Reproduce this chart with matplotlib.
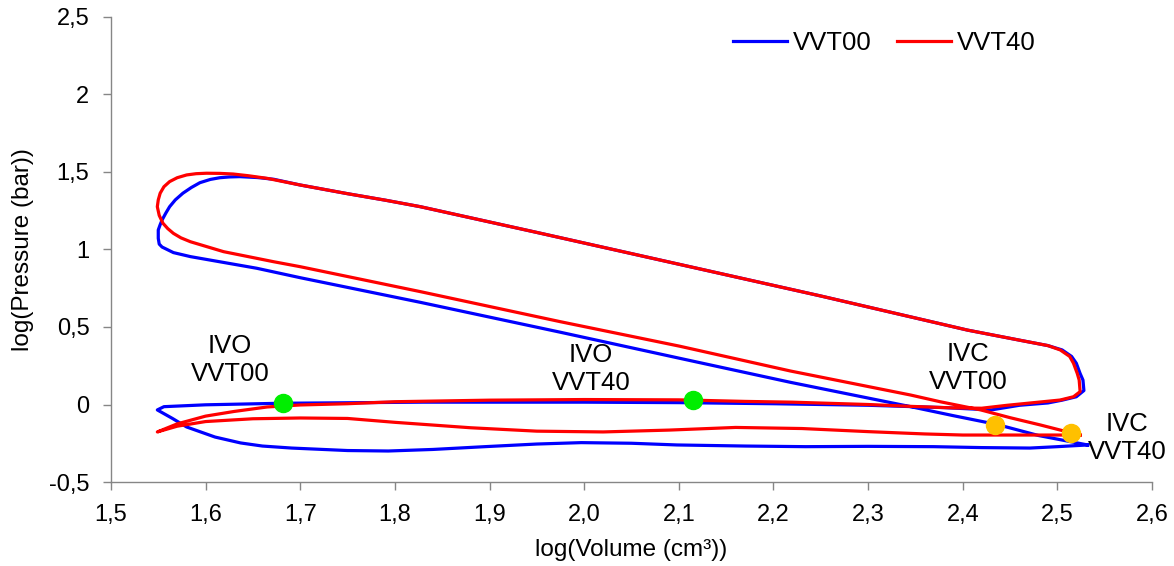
import matplotlib
matplotlib.use("Agg")
import matplotlib.pyplot as plt
from matplotlib.ticker import FuncFormatter, MultipleLocator

plt.rcParams['font.family'] = ['Liberation Sans', 'DejaVu Sans']

# log(Volume), log(Pressure), in cycle order:
# compression -> combustion -> expansion -> exhaust -> intake
vvt00_vol = [2.532, 2.48, 2.437, 2.39, 2.345, 2.218, 2.101, 1.975, 1.827, 1.700,
             1.654, 1.584, 1.566, 1.559, 1.554, 1.551, 1.550, 1.550, 1.552, 1.554,
             1.558, 1.562, 1.568, 1.576, 1.585, 1.594, 1.605, 1.615, 1.625, 1.636,
             1.655, 1.672, 1.700, 1.75, 1.79, 1.827, 1.95, 2.10, 2.25, 2.405,
             2.46, 2.49, 2.505, 2.515, 2.52, 2.524, 2.527, 2.528, 2.52, 2.505,
             2.49, 2.46, 2.43, 2.38, 2.30, 2.20, 2.10, 2.00, 1.83, 1.68,
             1.60, 1.556, 1.549, 1.565, 1.580, 1.61, 1.637, 1.66, 1.691, 1.75,
             1.793, 1.84, 1.895, 1.95, 1.997, 2.05, 2.098, 2.17, 2.234, 2.30,
             2.369, 2.42, 2.471, 2.50, 2.532]
vvt00_pres = [-0.261, -0.20, -0.13, -0.072, -0.014, 0.143, 0.298, 0.466, 0.659, 0.818,
              0.879, 0.954, 0.980, 1.001, 1.016, 1.035, 1.072, 1.126, 1.16, 1.19,
              1.235, 1.276, 1.32, 1.363, 1.40, 1.431, 1.452, 1.463, 1.468, 1.470,
              1.464, 1.453, 1.416, 1.36, 1.318, 1.276, 1.11, 0.905, 0.70, 0.48,
              0.415, 0.38, 0.352, 0.31, 0.266, 0.20, 0.158, 0.09, 0.05, 0.028,
              0.01, -0.005, -0.035, -0.02, -0.005, 0.005, 0.012, 0.015, 0.015, 0.008,
              -0.002, -0.014, -0.035, -0.09, -0.145, -0.21, -0.248, -0.268, -0.281, -0.297,
              -0.30, -0.29, -0.272, -0.255, -0.246, -0.25, -0.261, -0.268, -0.272, -0.27,
              -0.272, -0.278, -0.281, -0.272, -0.261]

vvt40_vol = [2.524, 2.514, 2.482, 2.45, 2.419, 2.376, 2.345, 2.218, 2.101, 1.975,
             1.827, 1.700, 1.672, 1.619, 1.584, 1.574, 1.566, 1.560, 1.555, 1.551,
             1.549, 1.550, 1.552, 1.556, 1.562, 1.570, 1.580, 1.590, 1.601, 1.615,
             1.629, 1.645, 1.665, 1.700, 1.75, 1.79, 1.827, 1.95, 2.10, 2.25,
             2.405, 2.46, 2.49, 2.503, 2.513, 2.517, 2.521, 2.523, 2.524, 2.517,
             2.503, 2.48, 2.447, 2.42, 2.39, 2.345, 2.30, 2.22, 2.17, 2.10,
             2.00, 1.90, 1.80, 1.75, 1.70, 1.665, 1.63, 1.60, 1.57, 1.549,
             1.57, 1.60, 1.65, 1.70, 1.75, 1.80, 1.88, 1.95, 2.02, 2.09,
             2.16, 2.23, 2.30, 2.36, 2.40, 2.45, 2.50, 2.524]
vvt40_pres = [-0.197, -0.182, -0.132, -0.085, -0.035, 0.018, 0.061, 0.216, 0.376, 0.534,
              0.728, 0.889, 0.921, 0.986, 1.050, 1.075, 1.104, 1.135, 1.169, 1.22,
              1.276, 1.32, 1.363, 1.405, 1.438, 1.463, 1.481, 1.489, 1.492, 1.491,
              1.487, 1.476, 1.459, 1.416, 1.36, 1.318, 1.276, 1.11, 0.905, 0.70,
              0.48, 0.415, 0.38, 0.352, 0.31, 0.266, 0.20, 0.158, 0.083, 0.05,
              0.029, 0.015, -0.005, -0.024, -0.022, -0.012, 0.0, 0.015, 0.02, 0.03,
              0.032, 0.028, 0.018, 0.005, -0.003, -0.016, -0.045, -0.075, -0.125, -0.177,
              -0.14, -0.11, -0.092, -0.087, -0.09, -0.115, -0.15, -0.172, -0.177, -0.165,
              -0.148, -0.155, -0.175, -0.19, -0.197, -0.197, -0.197, -0.197]

# valve events
ivo_vol = [1.682, 2.115]
ivo_pres = [0.008, 0.029]
ivc_vol = [2.434, 2.514]
ivc_pres = [-0.13, -0.182]

fig = plt.figure(figsize=(11.74, 5.66), dpi=100)
ax = fig.add_subplot(111)
fig.subplots_adjust(left=0.0945, right=0.9813, top=0.970, bottom=0.1484)

ax.plot(vvt00_vol, vvt00_pres, color='#0000FF', lw=2.3, label='VVT00', zorder=3,
        solid_joinstyle='round')
ax.plot(vvt40_vol, vvt40_pres, color='#FF0000', lw=2.3, label='VVT40', zorder=4,
        solid_joinstyle='round')
ax.plot(ivo_vol, ivo_pres, 'o', color='#00EE00', ms=13, zorder=5)
ax.plot(ivc_vol, ivc_pres, 'o', color='#FFC000', ms=13, zorder=5)

txt = dict(fontsize=18.5, ha='center', va='center', linespacing=1.2)
ax.text(1.626, 0.287, 'IVO\nVVT00', **txt)
ax.text(2.007, 0.229, 'IVO\nVVT40', **txt)
ax.text(2.406, 0.235, 'IVC\nVVT00', **txt)
ax.text(2.574, -0.216, 'IVC\nVVT40', **txt)

ax.set_xlim(1.5, 2.6)
ax.set_ylim(-0.5, 2.5)
ax.xaxis.set_major_locator(MultipleLocator(0.1))
ax.yaxis.set_major_locator(MultipleLocator(0.5))
ax.xaxis.set_major_formatter(FuncFormatter(lambda v, p: '{:.1f}'.format(v).replace('.', ',')))
ax.yaxis.set_major_formatter(FuncFormatter(lambda v, p: '{:g}'.format(round(v, 2)).replace('.', ',')))

for s in ['top', 'right']:
    ax.spines[s].set_visible(False)
for s in ['left', 'bottom']:
    ax.spines[s].set_color('#868686')
    ax.spines[s].set_linewidth(1.0)
ax.tick_params(direction='out', length=5.5, width=1.0, color='#868686',
               labelsize=17, pad=10)

ax.set_xlabel('log(Volume (cm³))', fontsize=17.5)
ax.set_ylabel('log(Pressure (bar))', fontsize=17.5)
ax.xaxis.set_label_coords(0.5, -0.122)
ax.yaxis.set_label_coords(-0.074, 0.5)

ax.legend(loc='center', bbox_to_anchor=(0.7426, 0.944), ncol=2, frameon=False,
          fontsize=18.5, handlelength=2.1, handletextpad=0.23, columnspacing=1.0)

plt.savefig('out.png', dpi=100)
